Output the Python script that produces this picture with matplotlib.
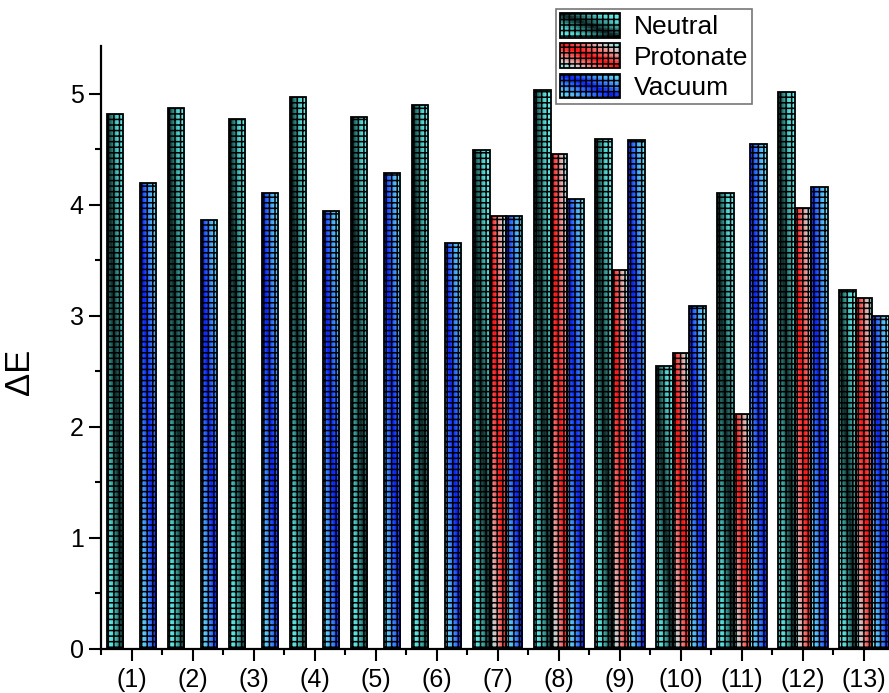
import numpy as np
import matplotlib
matplotlib.use("Agg")
import matplotlib.pyplot as plt
from matplotlib.patches import Patch, Rectangle
from matplotlib.colors import to_rgb
from matplotlib.ticker import FixedLocator
from matplotlib.legend_handler import HandlerBase

plt.rcParams['font.family'] = ['Liberation Sans', 'DejaVu Sans']
plt.rcParams['hatch.linewidth'] = 1.1
plt.rcParams['hatch.color'] = 'black'

categories = ['(1)', '(2)', '(3)', '(4)', '(5)', '(6)', '(7)',
              '(8)', '(9)', '(10)', '(11)', '(12)', '(13)']
neutral = [4.82, 4.87, 4.77, 4.97, 4.79, 4.90, 4.49, 5.03, 4.59, 2.55, 4.11, 5.02, 3.23]
protonate = [np.nan, np.nan, np.nan, np.nan, np.nan, np.nan, 3.90, 4.46, 3.41, 2.67, 2.12, 3.97, 3.16]
vacuum = [4.20, 3.86, 4.11, 3.94, 4.29, 3.66, 3.90, 4.05, 4.58, 3.09, 4.55, 4.16, 3.00]

# colour ramps: position 0 lies on the bar's diagonal, 1 on the far corners
series = [
    ('Neutral', neutral, [(0.0, '#0e2624'), (0.3, '#2f8a85'), (0.6, '#55d6d2'), (1.0, '#6cf8f5')]),
    ('Protonate', protonate, [(0.0, '#ff1010'), (0.35, '#f26a6a'), (0.65, '#dcc2c2'), (1.0, '#72f2f0')]),
    ('Vacuum', vacuum, [(0.0, '#0a20ff'), (0.3, '#3070ff'), (0.6, '#50b4f8'), (1.0, '#70f2f4')]),
]

width = 0.27
offsets = [-width, 0.0, width]
HATCH = '+++'


def ramp(stops, d):
    pos = np.array([p for p, _ in stops])
    cols = np.array([to_rgb(c) for _, c in stops])
    d = np.asarray(d)
    return np.stack([np.interp(d, pos, cols[:, k]) for k in range(3)], axis=-1)


def diagonal_fill(stops, nx=40, ny=200):
    u = (np.arange(nx) + 0.5) / nx
    v = (np.arange(ny) + 0.5) / ny
    uu, vv = np.meshgrid(u, v)
    return ramp(stops, np.abs(uu - vv))


class GradientHandler(HandlerBase):
    def __init__(self, stops):
        super().__init__()
        self.stops = stops

    def create_artists(self, legend, orig_handle, xdescent, ydescent,
                       width, height, fontsize, trans):
        nx, ny = 30, 10
        arts = []
        x0, y0 = -xdescent, -ydescent
        for i in range(nx):
            for j in range(ny):
                u = (i + 0.5) / nx
                v = 1 - (j + 0.5) / ny
                c = ramp(self.stops, abs(u - v))
                arts.append(Rectangle((x0 + i * width / nx, y0 + j * height / ny),
                                      width / nx * 1.02, height / ny * 1.02,
                                      facecolor=c, edgecolor='none', transform=trans))
        arts.append(Rectangle((x0, y0), width, height, facecolor='none',
                              edgecolor='black', hatch=HATCH, linewidth=1.3,
                              transform=trans))
        return arts


fig = plt.figure(figsize=(8.89, 6.93), dpi=100)
ax = fig.add_axes([0.1136, 0.0635, 0.8864, 0.8701])

x = np.arange(1, len(categories) + 1)
for (name, vals, stops), off in zip(series, offsets):
    img = diagonal_fill(stops)
    for xi, v in zip(x, vals):
        if np.isnan(v):
            continue
        left = xi + off - width / 2
        bar = ax.bar(left, v, width=width, align='edge', facecolor='none',
                     edgecolor='black', linewidth=1.3, hatch=HATCH, zorder=3)[0]
        im = ax.imshow(img, extent=(left, left + width, 0, v), aspect='auto',
                       origin='upper', interpolation='bilinear', zorder=2)
        im.set_clip_path(bar)

ax.set_xlim(0.5, 13.41)
ax.set_ylim(0, 5.43)

ax.set_xticks(x)
ax.set_xticklabels(categories)
ax.xaxis.set_minor_locator(FixedLocator(np.arange(0.5, 14, 1.0)))
ax.set_yticks(np.arange(0, 6, 1))
ax.yaxis.set_minor_locator(FixedLocator(np.arange(0.5, 5.5, 1.0)))

ax.tick_params(axis='both', which='major', direction='out', length=8.5, width=1.5,
               labelsize=18, colors='black')
ax.tick_params(axis='both', which='minor', direction='out', length=4, width=1.5)
ax.tick_params(axis='x', which='major', pad=5)
ax.tick_params(axis='y', which='major', pad=4)

for s in ['top', 'right']:
    ax.spines[s].set_visible(False)
for s in ['left', 'bottom']:
    ax.spines[s].set_linewidth(1.6)

ax.set_ylabel('ΔE', fontsize=25)
ax.yaxis.set_label_coords(-0.083, 0.459)

handles = [Patch(label=name) for name, _, _ in series]
hmap = {h: GradientHandler(stops) for h, (_, _, stops) in zip(handles, series)}
leg = ax.legend(handles=handles, handler_map=hmap, loc='upper left',
                bbox_to_anchor=(0.577, 1.061), fontsize=19, frameon=True,
                fancybox=False, edgecolor='#555555', handlelength=2.3,
                handleheight=1.05, handletextpad=0.5, labelspacing=0.15,
                borderpad=0.15, borderaxespad=0.0)
leg.get_frame().set_linewidth(1.2)

fig.savefig('out.png', dpi=100)
